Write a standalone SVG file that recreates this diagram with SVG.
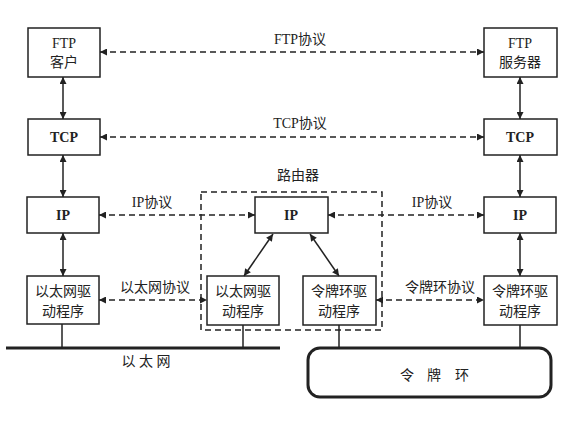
<svg xmlns="http://www.w3.org/2000/svg" width="582" height="430" viewBox="0 0 582 430">
<defs>
<marker id="ah" viewBox="0 0 10 10" refX="10" refY="5" markerWidth="10" markerHeight="7" markerUnits="userSpaceOnUse" orient="auto-start-reverse"><path d="M0,0 L10,5 L0,10 z" fill="#222"/></marker>
<style>
.box{fill:#fff;stroke:#222;stroke-width:1.5}
.t{font-family:"Liberation Serif","Noto Sans CJK SC",serif;font-size:14px;fill:#222;text-anchor:middle}
.b{font-weight:bold}
.dash{stroke:#222;stroke-width:1.5;stroke-dasharray:6,4;fill:none}
.sol{stroke:#222;stroke-width:1.5;fill:none}
</style>
</defs>
<rect width="582" height="430" fill="#fff"/>
<g id="router">
<rect x="201" y="192" width="181" height="138" class="dash"/>
<text x="298" y="180" class="t">路由器</text>
</g>
<g id="ftp-client"><rect x="28" y="28" width="72" height="49" class="box"/><text x="64" y="48" class="t">FTP</text><text x="64" y="67" class="t">客户</text></g>
<g id="tcp-left"><rect x="28" y="119" width="72" height="36" class="box"/><text x="64" y="142" class="t b">TCP</text></g>
<g id="ip-left"><rect x="27" y="197" width="72" height="36" class="box"/><text x="63" y="220" class="t b">IP</text></g>
<g id="eth-left"><rect x="27" y="276" width="72" height="48" class="box"/><text x="63" y="296" class="t">以太网驱</text><text x="63" y="316" class="t">动程序</text></g>
<g id="ip-router"><rect x="255" y="197" width="73" height="36" class="box"/><text x="291" y="220" class="t b">IP</text></g>
<g id="eth-router"><rect x="207" y="276" width="72" height="49" class="box"/><text x="243" y="296" class="t">以太网驱</text><text x="243" y="316" class="t">动程序</text></g>
<g id="tr-router"><rect x="303" y="276" width="73" height="49" class="box"/><text x="339" y="296" class="t">令牌环驱</text><text x="339" y="316" class="t">动程序</text></g>
<g id="ftp-server"><rect x="484" y="28" width="73" height="49" class="box"/><text x="520" y="48" class="t">FTP</text><text x="520" y="67" class="t">服务器</text></g>
<g id="tcp-right"><rect x="484" y="119" width="73" height="36" class="box"/><text x="520" y="142" class="t b">TCP</text></g>
<g id="ip-right"><rect x="484" y="197" width="72" height="36" class="box"/><text x="520" y="220" class="t b">IP</text></g>
<g id="tr-right"><rect x="484" y="276" width="73" height="49" class="box"/><text x="520" y="296" class="t">令牌环驱</text><text x="520" y="316" class="t">动程序</text></g>
<g id="ethernet"><line x1="6" y1="348" x2="280" y2="348" stroke="#222" stroke-width="3"/><text x="146" y="366" class="t">以 太 网</text></g>
<g id="token-ring"><rect x="308" y="348" width="243" height="49" rx="12" fill="none" stroke="#222" stroke-width="3"/><text y="380" class="t"><tspan x="407">令</tspan><tspan x="434">牌</tspan><tspan x="462">环</tspan></text></g>
<g id="connectors">
<line x1="100" y1="52" x2="484" y2="52" class="dash" marker-start="url(#ah)" marker-end="url(#ah)"/>
<text x="300" y="44" class="t">FTP协议</text>
<line x1="100" y1="137" x2="484" y2="137" class="dash" marker-start="url(#ah)" marker-end="url(#ah)"/>
<text x="300" y="128" class="t">TCP协议</text>
<line x1="99" y1="215" x2="255" y2="215" class="dash" marker-start="url(#ah)" marker-end="url(#ah)"/>
<text x="152" y="207" class="t">IP协议</text>
<line x1="328" y1="215" x2="484" y2="215" class="dash" marker-start="url(#ah)" marker-end="url(#ah)"/>
<text x="432" y="207" class="t">IP协议</text>
<line x1="99" y1="300" x2="207" y2="300" class="dash" marker-start="url(#ah)" marker-end="url(#ah)"/>
<text x="155" y="292" class="t">以太网协议</text>
<line x1="376" y1="300" x2="484" y2="300" class="dash" marker-start="url(#ah)" marker-end="url(#ah)"/>
<text x="440" y="292" class="t">令牌环协议</text>
<line x1="63" y1="77" x2="63" y2="119" class="sol" marker-start="url(#ah)" marker-end="url(#ah)"/>
<line x1="63" y1="155" x2="63" y2="197" class="sol" marker-start="url(#ah)" marker-end="url(#ah)"/>
<line x1="63" y1="233" x2="63" y2="276" class="sol" marker-start="url(#ah)" marker-end="url(#ah)"/>
<line x1="520" y1="77" x2="520" y2="119" class="sol" marker-start="url(#ah)" marker-end="url(#ah)"/>
<line x1="520" y1="155" x2="520" y2="197" class="sol" marker-start="url(#ah)" marker-end="url(#ah)"/>
<line x1="520" y1="233" x2="520" y2="276" class="sol" marker-start="url(#ah)" marker-end="url(#ah)"/>
<line x1="273" y1="234" x2="244" y2="276" class="sol" marker-start="url(#ah)" marker-end="url(#ah)"/>
<line x1="310" y1="234" x2="339" y2="276" class="sol" marker-start="url(#ah)" marker-end="url(#ah)"/>
<line x1="62" y1="324" x2="62" y2="348" class="sol"/>
<line x1="243" y1="325" x2="243" y2="348" class="sol"/>
<line x1="339" y1="325" x2="339" y2="348" class="sol"/>
<line x1="520" y1="325" x2="520" y2="348" class="sol"/>
</g>
</svg>
